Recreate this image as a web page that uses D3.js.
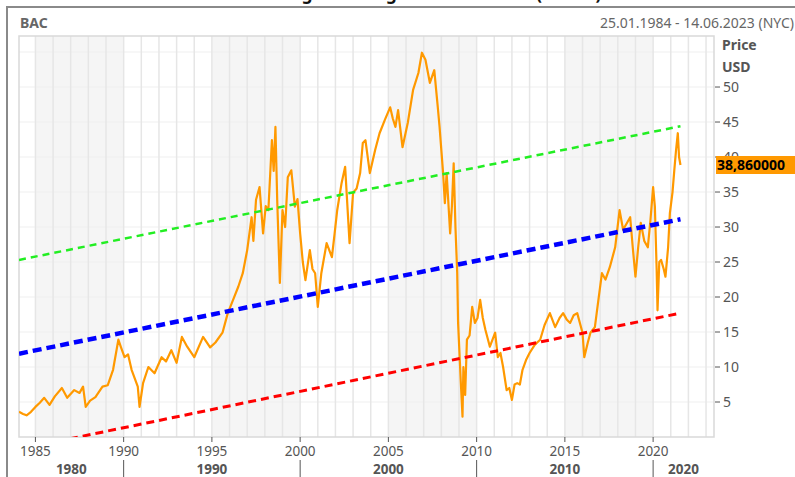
<!DOCTYPE html>
<html lang="en">
<head>
    <meta charset="UTF-8">
    <title>BAC</title>
    <style>
        body { margin: 0; background: #fff; }
        svg text { font-family: "Noto Sans", "DejaVu Sans", sans-serif; }
    </style>
</head>
<body>
    <div id="chart"></div>
    <script src="https://d3js.org/d3.v7.min.js"></script>
    <script>
        // closing prices (year as decimal)
        const years = [
            1984.07, 1984.3, 1984.5, 1984.75, 1985.0, 1985.25, 1985.5, 1985.8, 1986.1, 1986.5,
            1986.8, 1987.2, 1987.5, 1987.7, 1987.85, 1988.1, 1988.4, 1988.8, 1989.1, 1989.4,
            1989.7, 1989.85, 1990.05, 1990.25, 1990.45, 1990.8, 1990.9, 1991.0, 1991.1, 1991.4,
            1991.75, 1992.15, 1992.4, 1992.7, 1993.0, 1993.3, 1993.6, 1994.0, 1994.5, 1994.9,
            1995.2, 1995.6, 1995.9, 1996.2, 1996.5, 1996.75, 1997.0, 1997.25, 1997.35, 1997.5,
            1997.7, 1997.9, 1998.05, 1998.2, 1998.4, 1998.5, 1998.6, 1998.7, 1998.85, 1999.0,
            1999.15, 1999.3, 1999.5, 1999.7, 1999.85, 2000.0, 2000.15, 2000.3, 2000.55, 2000.7,
            2000.85, 2001.0, 2001.2, 2001.5, 2001.8, 2001.95, 2002.1, 2002.35, 2002.55, 2002.8,
            2003.0, 2003.2, 2003.4, 2003.55, 2003.7, 2003.95, 2004.25, 2004.5, 2004.8, 2005.1,
            2005.25, 2005.4, 2005.55, 2005.8, 2006.1, 2006.4, 2006.7, 2006.9, 2007.1, 2007.35,
            2007.6, 2007.8, 2007.9, 2008.1, 2008.2, 2008.3, 2008.5, 2008.6, 2008.7, 2008.8,
            2008.9, 2008.95, 2009.1, 2009.2, 2009.25, 2009.35, 2009.45, 2009.6, 2009.75, 2009.9,
            2010.05, 2010.2, 2010.35, 2010.5, 2010.75, 2011.05, 2011.2, 2011.35, 2011.5, 2011.7,
            2011.85, 2012.0, 2012.15, 2012.3, 2012.45, 2012.6, 2012.8, 2013.0, 2013.3, 2013.6,
            2013.85, 2014.15, 2014.45, 2014.7, 2014.9, 2015.1, 2015.3, 2015.5, 2015.7, 2016.0,
            2016.1, 2016.3, 2016.45, 2016.7, 2016.9, 2017.1, 2017.3, 2017.55, 2017.85, 2018.1,
            2018.3, 2018.5, 2018.7, 2018.85, 2019.0, 2019.15, 2019.3, 2019.5, 2019.7, 2019.85,
            2020.0, 2020.1, 2020.2, 2020.25, 2020.35, 2020.45, 2020.6, 2020.7, 2020.85, 2020.95,
            2021.1, 2021.2, 2021.3, 2021.4, 2021.47, 2021.55
        ];
        const prices = [
            3.6, 3.3, 3.1, 3.6, 4.3, 4.9, 5.6, 4.6, 5.8, 7.0,
            5.6, 6.7, 6.3, 7.2, 4.3, 5.2, 5.7, 7.2, 7.4, 9.6,
            13.9, 12.8, 11.4, 11.8, 9.6, 7.2, 4.3, 6.0, 7.7, 10.0,
            9.1, 11.4, 10.8, 12.4, 10.6, 14.3, 12.9, 11.4, 14.3, 12.8,
            13.5, 14.9, 17.7, 19.6, 21.5, 23.4, 26.7, 31.4, 28.0, 33.9,
            35.7, 29.1, 33.0, 32.4, 42.4, 38.0, 44.3, 33.9, 22.0, 32.4,
            30.0, 37.1, 38.1, 32.9, 34.0, 29.1, 25.0, 22.4, 26.7, 24.0,
            23.4, 18.6, 23.4, 27.7, 25.7, 29.0, 32.4, 36.3, 38.6, 27.7,
            34.9, 35.5, 37.7, 42.0, 42.4, 37.7, 41.0, 43.4, 45.3, 47.1,
            45.5, 44.3, 46.7, 41.4, 44.9, 49.6, 52.0, 54.9, 53.9, 50.6,
            52.4, 47.1, 44.3, 37.7, 33.4, 37.7, 29.1, 33.0, 39.1, 30.0,
            23.4, 16.3, 8.0, 2.9, 10.0, 6.0, 13.9, 14.5, 18.6, 16.3,
            17.0, 19.6, 17.0, 15.3, 12.9, 14.9, 11.4, 12.0, 10.0, 6.7,
            7.0, 5.3, 7.5, 7.7, 7.5, 9.6, 11.0, 12.0, 13.2, 13.9,
            16.0, 17.7, 15.7, 17.0, 17.7, 16.8, 16.3, 17.4, 17.7, 14.9,
            11.4, 13.5, 14.9, 15.7, 19.6, 23.4, 22.5, 24.3, 27.1, 32.4,
            29.6, 30.5, 31.4, 27.0, 22.9, 27.0, 30.6, 28.0, 27.1, 31.0,
            35.7, 32.9, 24.0, 18.1, 25.0, 25.3, 24.0, 22.9, 27.1, 32.0,
            35.0, 38.1, 41.0, 43.4, 40.0, 38.86
        ];
        // regression channel, start and end of the fit
        const trendYears = [1984.07, 2021.55];
        const upperBand = [25.3, 44.4];
        const midLine = [11.9, 31.1];
        const lowerBand = [-1.75, 17.7];

        const yTicks = [5, 10, 15, 20, 25, 30, 35, 40, 45, 50];
        const yGrid = [5, 10, 15, 20, 25, 30, 35, 40, 45, 50, 55];
        const yearTicks = [1985, 1990, 1995, 2000, 2005, 2010, 2015, 2020];
        const decades = [1980, 1990, 2000, 2010, 2020];
        const shadedBands = [1985, 1995, 2005, 2015];
        const lastPrice = "38,860000";

        const width = 795, height = 477;
        const pLeft = 19, pRight = 714, pTop = 36, pBottom = 437;

        const x = d3.scaleLinear().domain([1984.07, 2023.45]).range([pLeft, pRight]);
        const y = d3.scaleLinear().domain([0, 57.29]).range([pBottom, pTop]);

        const svg = d3.select("#chart")
            .append("svg")
            .attr("width", width)
            .attr("height", height);

        // title, cut at the top edge like the source
        svg.append("text")
            .attr("x", 436)
            .attr("y", -0.5)
            .attr("text-anchor", "middle")
            .attr("font-size", 17)
            .attr("font-weight", "bold")
            .attr("fill", "#111")
            .text("Long-Term Regression Channel (Linear)");

        // outer frame
        svg.append("path")
            .attr("d", `M7,${height} V7 H${width}`)
            .attr("fill", "none")
            .attr("stroke", "#8a8a8a")
            .attr("stroke-width", 2);

        svg.append("text")
            .attr("x", 20).attr("y", 28)
            .attr("font-size", 14).attr("font-weight", "bold")
            .attr("fill", "#666")
            .text("BAC");

        svg.append("text")
            .attr("x", 794).attr("y", 28)
            .attr("text-anchor", "end")
            .attr("font-size", 14)
            .attr("fill", "#666")
            .text("25.01.1984 - 14.06.2023 (NYC)");

        // plot background, 5 year bands
        svg.append("rect")
            .attr("x", pLeft).attr("y", pTop)
            .attr("width", pRight - pLeft).attr("height", pBottom - pTop)
            .attr("fill", "#fff");
        svg.selectAll(".band")
            .data(shadedBands)
            .enter().append("rect")
            .attr("x", d => x(d))
            .attr("y", pTop)
            .attr("width", d => x(d + 5) - x(d))
            .attr("height", pBottom - pTop)
            .attr("fill", "#f5f5f5");

        svg.selectAll(".hgrid")
            .data(yGrid)
            .enter().append("line")
            .attr("x1", pLeft).attr("x2", pRight)
            .attr("y1", d => y(d)).attr("y2", d => y(d))
            .attr("stroke", "#efefef")
            .attr("stroke-width", 1);

        svg.selectAll(".vgrid")
            .data(d3.range(1985, 2024))
            .enter().append("line")
            .attr("x1", d => x(d)).attr("x2", d => x(d))
            .attr("y1", pTop).attr("y2", pBottom)
            .attr("stroke", "#e6e6e6")
            .attr("stroke-width", 1.5);

        svg.append("rect")
            .attr("x", pLeft).attr("y", pTop)
            .attr("width", pRight - pLeft).attr("height", pBottom - pTop)
            .attr("fill", "none")
            .attr("stroke", "#d9d9d9")
            .attr("stroke-width", 1.5);

        svg.append("clipPath").attr("id", "plotclip")
            .append("rect")
            .attr("x", pLeft).attr("y", pTop)
            .attr("width", pRight - pLeft).attr("height", pBottom - pTop);

        const plot = svg.append("g").attr("clip-path", "url(#plotclip)");

        // price
        const priceLine = d3.line()
            .x((d, i) => x(years[i]))
            .y(d => y(d));
        plot.append("path")
            .datum(prices)
            .attr("d", priceLine)
            .attr("fill", "none")
            .attr("stroke", "#ff9900")
            .attr("stroke-width", 2.2)
            .attr("stroke-linejoin", "round");

        // regression channel
        const trendLine = d3.line()
            .x((d, i) => x(trendYears[i]))
            .y(d => y(d));
        const channel = [
            { values: upperBand, color: "#22ee22", w: 2.5, dash: "7,5" },
            { values: midLine, color: "#0000ff", w: 4.5, dash: "9,5" },
            { values: lowerBand, color: "#ff0000", w: 3, dash: "8,5" }
        ];
        channel.forEach(c => {
            plot.append("path")
                .datum(c.values)
                .attr("d", trendLine)
                .attr("fill", "none")
                .attr("stroke", c.color)
                .attr("stroke-width", c.w)
                .attr("stroke-dasharray", c.dash);
        });

        // right axis
        const yAxis = svg.append("g");
        yAxis.selectAll(".ytick")
            .data(yTicks)
            .enter().append("line")
            .attr("x1", pRight + 1).attr("x2", pRight + 6)
            .attr("y1", d => y(d)).attr("y2", d => y(d))
            .attr("stroke", "#555");
        yAxis.selectAll(".ylabel")
            .data(yTicks)
            .enter().append("text")
            .attr("x", pRight + 9)
            .attr("y", d => y(d) + 5)
            .attr("font-size", 14)
            .attr("fill", "#555")
            .text(d => d);
        svg.append("text")
            .attr("x", 722).attr("y", 50)
            .attr("font-size", 14).attr("font-weight", "bold")
            .attr("fill", "#555")
            .text("Price");
        svg.append("text")
            .attr("x", 722).attr("y", 72)
            .attr("font-size", 14).attr("font-weight", "bold")
            .attr("fill", "#555")
            .text("USD");

        // last price tag (covers the 40 label, as in the source)
        const lastY = y(prices[prices.length - 1]);
        svg.append("rect")
            .attr("x", pRight + 2).attr("y", lastY - 9)
            .attr("width", width - pRight).attr("height", 18)
            .attr("fill", "#ff9900");
        svg.append("text")
            .attr("x", pRight + 3).attr("y", lastY + 5)
            .attr("font-size", 14).attr("font-weight", "bold")
            .attr("fill", "#000")
            .text(lastPrice);

        // bottom axis: years and decades
        svg.selectAll(".xtick")
            .data(yearTicks)
            .enter().append("line")
            .attr("x1", d => x(d)).attr("x2", d => x(d))
            .attr("y1", pBottom).attr("y2", pBottom + 5)
            .attr("stroke", "#555");
        svg.selectAll(".xlabel")
            .data(yearTicks)
            .enter().append("text")
            .attr("x", d => x(d))
            .attr("y", 456)
            .attr("text-anchor", "middle")
            .attr("font-size", 13.5)
            .attr("fill", "#555")
            .text(d => d);

        const [d0, d1] = x.domain();
        svg.selectAll(".decade")
            .data(decades)
            .enter().append("text")
            .attr("x", d => (x(Math.max(d, d0)) + x(Math.min(d + 10, d1))) / 2)
            .attr("y", 474)
            .attr("text-anchor", "middle")
            .attr("font-size", 13.5)
            .attr("font-weight", "bold")
            .attr("fill", "#555")
            .text(d => d);
        svg.selectAll(".decsep")
            .data(decades.slice(1))
            .enter().append("line")
            .attr("x1", d => x(d)).attr("x2", d => x(d))
            .attr("y1", 460).attr("y2", height)
            .attr("stroke", "#555");
    </script>
</body>
</html>
